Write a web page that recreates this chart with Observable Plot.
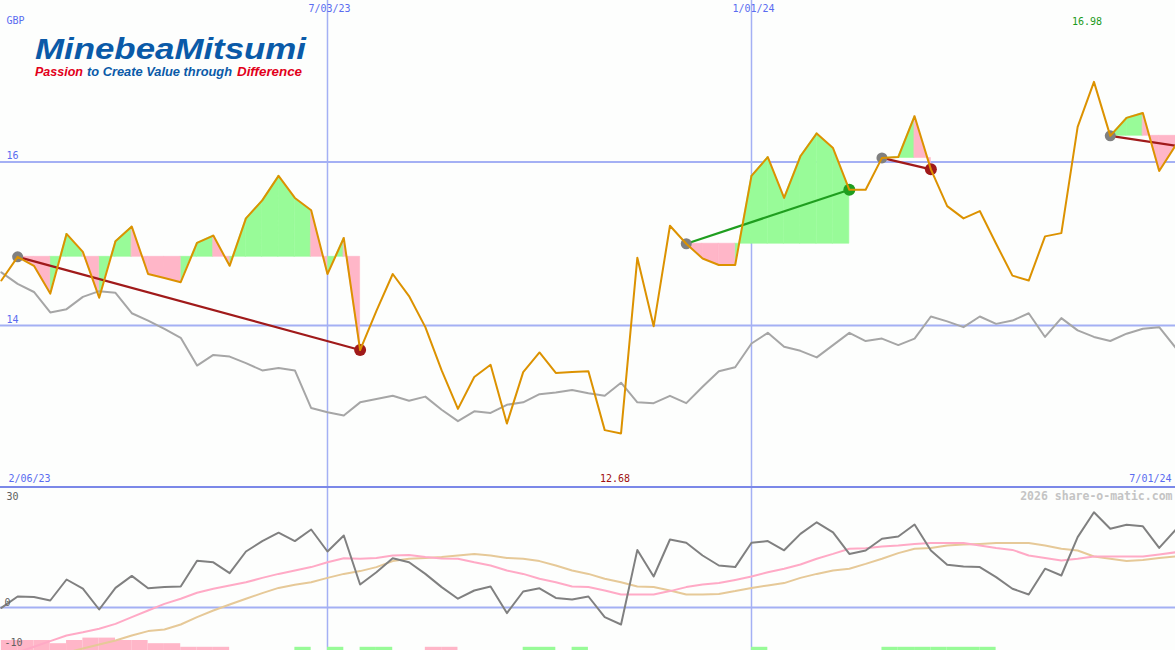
<!DOCTYPE html>
<html><head><meta charset="utf-8">
<script src="https://cdn.jsdelivr.net/npm/d3@7"></script>
<script src="https://cdn.jsdelivr.net/npm/@observablehq/plot@0.6"></script>
<style>
html,body{margin:0;padding:0;background:#fdfefd;}
#wrap{position:relative;width:1175px;height:650px;overflow:hidden;background:#fdfefd;}
#lower{border-top:2px solid #7b88e8;}
#wrap svg{display:block;}
#logo{position:absolute;left:0;top:0;}
</style></head><body>
<div id="wrap">
<div id="main"></div>
<div id="lower"></div>
<svg id="logo" width="330" height="85" xmlns="http://www.w3.org/2000/svg" font-family="'Liberation Sans', Arial, sans-serif" font-weight="bold" font-style="italic">
<text x="35" y="58.5" textLength="271" lengthAdjust="spacingAndGlyphs" font-size="30" fill="#0a5aa8">MinebeaMitsumi</text>
<text x="35" y="76" textLength="48" lengthAdjust="spacingAndGlyphs" font-size="12" fill="#e2001a">Passion</text>
<text x="87" y="76" textLength="145" lengthAdjust="spacingAndGlyphs" font-size="12" fill="#0a5aa8">to Create Value through</text>
<text x="237" y="76" textLength="65" lengthAdjust="spacingAndGlyphs" font-size="12" fill="#e2001a">Difference</text>
</svg>
</div>
<script>
// ---- data (weekly, Mondays from 13 Feb 2023 to 1 Jul 2024) ----
const firstWeek = "2023-02-13";
const lastWeek = "2024-07-01";
const price = [
14.55,14.84,14.73,14.39,15.12,14.90,14.34,15.03,15.21,14.63,
14.58,14.53,15.01,15.10,14.73,15.31,15.53,15.83,15.56,15.41,
14.63,15.07,13.70,14.18,14.63,14.36,13.98,13.45,12.98,13.37,
13.52,12.80,13.43,13.67,13.42,13.43,13.44,12.72,12.68,14.83,
13.99,15.22,15.00,14.82,14.74,14.74,15.83,16.06,15.56,16.07,
16.35,16.17,15.66,15.66,16.05,16.06,16.56,15.91,15.46,15.31,
15.40,15.00,14.61,14.55,15.09,15.13,16.43,16.98,16.32,16.54,
16.60,15.89,16.20];
const benchmark = [
14.65,14.51,14.41,14.16,14.20,14.35,14.42,14.40,14.15,14.06,
13.96,13.85,13.51,13.64,13.62,13.54,13.45,13.48,13.45,12.99,
12.94,12.90,13.06,13.10,13.14,13.08,13.13,12.97,12.83,12.95,
12.93,13.03,13.06,13.16,13.18,13.21,13.17,13.14,13.30,13.06,
13.05,13.14,13.05,13.25,13.44,13.49,13.78,13.91,13.74,13.69,
13.61,13.76,13.91,13.81,13.84,13.76,13.84,14.11,14.05,13.98,
14.11,14.02,14.06,14.15,13.86,14.09,13.94,13.86,13.81,13.90,
13.96,13.98,13.73];
const oscillator = [
-0.1,2.75,2.6,1.75,7.0,4.7,-0.5,4.9,7.9,4.8,
5.1,5.25,11.7,11.3,8.6,14.0,16.6,18.7,16.6,19.5,
14.0,18.0,5.75,8.8,12.3,11.3,8.4,5.1,2.2,4.25,
5.25,-1.4,4.0,4.8,2.4,2.0,2.75,-2.4,-4.25,14.4,
7.75,17.0,16.2,13.0,10.5,10.1,16.2,16.6,14.3,18.4,
21.3,18.8,13.4,14.25,17.2,17.75,20.75,14.25,10.7,10.25,
10.1,7.6,4.7,3.25,9.7,8.0,17.6,23.8,19.7,20.7,
20.3,14.9,19.4];
const oscFast = [
-12.5,-11.2,-9.8,-8.4,-7.0,-6.2,-5.3,-4.1,-2.4,-0.75,
0.9,2.2,3.7,4.7,5.5,6.3,7.4,8.4,9.25,10.1,
11.3,12.3,12.2,12.4,13.0,13.1,12.6,12.25,12.2,11.3,
10.5,9.25,8.4,7.2,6.3,5.25,5.1,4.25,3.25,3.25,
3.25,4.1,5.1,5.75,6.1,6.9,7.75,8.8,9.7,10.75,
12.2,13.4,14.7,14.8,15.25,15.5,15.9,16.1,16.1,16.1,
15.5,14.9,14.4,13.0,12.4,11.75,12.2,12.75,12.75,12.75,
12.75,13.25,13.8];
const oscSlow = [
-15.5,-14.5,-13.5,-12.5,-11.3,-10.25,-9.25,-8.25,-7.0,-5.9,
-5.5,-4.25,-2.4,-0.75,0.75,2.2,3.6,4.9,5.7,6.3,
7.4,8.4,9.1,10.1,11.6,12.2,12.4,12.6,13.0,13.4,
13.0,12.4,12.2,11.6,10.5,9.25,8.4,7.2,6.3,5.25,
5.1,4.25,3.25,3.25,3.4,4.1,4.9,5.5,6.1,7.4,
8.4,9.25,9.7,10.9,12.2,13.6,14.7,14.9,15.5,15.75,
15.9,16.1,16.1,16.1,15.5,14.7,14.25,12.75,12.2,11.6,
11.9,12.4,12.75];
const signalBars = [
-2.5,-2.5,-2.5,-1.7,-2.5,-3.1,-3.1,-2.5,-2.5,-1.7,
-1.7,-0.8,-0.8,-0.8,0,0,0,0,0.8,0,
0.8,0,0.8,0.8,0,0,-0.8,-0.8,0,0,
0,0,0.8,0.8,0,0.8,0,0,0,0,
0,0,0,0,0,0,0.8,0,0,0,
0,0,0,0,0.8,0.8,0.8,0.8,0.8,0.8,
0.8,0,0,0,0,0,0,0,0,0,
0,0,0];
const tradeEntry = ["2023-02-20","2023-12-04","2024-02-26","2024-06-03"];
const tradeExit  = ["2023-07-17","2024-02-12","2024-03-18","2024-07-01"];
const tradeClosed = [true,true,true,false];
const priceTicks = [16,14];
const oscTicks = [0,-10];
const oscTopLabel = "30";
const dateTicks = ["2023-07-03","2024-01-01"];
const dateTickLabels = ["7/03/23","1/01/24"];
const rangeStartLabel = "2/06/23";
const rangeEndLabel = "7/01/24";
const currency = "GBP";
const credit = "2026 share-o-matic.com";

// ---- build ----
const dates = d3.utcMonday.range(new Date(firstWeek), d3.utcDay.offset(new Date(lastWeek), 1));
const rows = dates.map((d,i)=>({date:d, price:price[i], bench:benchmark[i], osc:oscillator[i], fast:oscFast[i], slow:oscSlow[i]}));
const idx = s => dates.findIndex(d => +d === +new Date(s));

const xDomain = [new Date(Date.UTC(2023,1,12,15,22)), new Date(lastWeek)];
const mainY = [12.0306, 17.9755];
const lowY = [-10.75, 29.75];

const MONO = "DejaVu Sans Mono, monospace";
const GRID = "#a4b0f4";
const LABEL = "#5a6cf0";
const GREENFILL = "#98fb98", PINKFILL = "#ffb6c8";

const posRows = [], negRows = [], links = [], entryDots = [], exitDots = [];
tradeEntry.forEach((e,t)=>{
  const s = idx(e), f = idx(tradeExit[t]);
  const level = price[s];
  for (let k=s;k<f;k++){
    const target = price[k+1] >= level ? posRows : negRows;
    const seg = t + "-" + k;
    target.push({seg, date:dates[k], y1:level, y2:price[k]});
    target.push({seg, date:dates[k+1], y1:level, y2:price[k+1]});
  }
  const win = price[f] >= level;
  links.push({x1:dates[s], y1:level, x2:dates[f], y2:price[f], color: win ? "#1f9e1f" : "#a01a1a"});
  entryDots.push({date:dates[s], v:level});
  if (tradeClosed[t]) exitDots.push({date:dates[f], v:price[f], color: win ? "#1f9e1f" : "#a01a1a"});
});

const iMax = d3.maxIndex(price), iMin = d3.minIndex(price);
const tickDates = dateTicks.map(s=>new Date(s));
const T = {fontFamily:MONO, fontSize:10, lineAnchor:"middle"};

const main = Plot.plot({
  width:1175, height:486, margin:0,
  x:{type:"utc", domain:xDomain, axis:null},
  y:{domain:mainY, axis:null},
  style:{background:"transparent", fontFamily:MONO, fontSize:"10px", overflow:"hidden"},
  marks:[
    Plot.ruleY(priceTicks, {stroke:GRID, strokeWidth:2}),
    Plot.ruleX(tickDates, {stroke:GRID, strokeWidth:1.5}),
    Plot.areaY(posRows, {x:"date", y1:"y1", y2:"y2", z:"seg", fill:GREENFILL, stroke:GREENFILL, strokeWidth:0.6}),
    Plot.areaY(negRows, {x:"date", y1:"y1", y2:"y2", z:"seg", fill:PINKFILL, stroke:PINKFILL, strokeWidth:0.6}),
    Plot.line(rows, {x:"date", y:"bench", stroke:"#a6a6a6", strokeWidth:2}),
    Plot.link(links, {x1:"x1", y1:"y1", x2:"x2", y2:"y2", stroke:"color", strokeWidth:2.2}),
    Plot.dot(entryDots, {x:"date", y:"v", r:5.5, fill:"#808080"}),
    Plot.dot(exitDots, {x:"date", y:"v", r:6, fill:"color"}),
    Plot.line(rows, {x:"date", y:"price", stroke:"#dc9200", strokeWidth:2}),
    Plot.text([currency], {...T, frameAnchor:"top-left", dx:6, dy:20, text:d=>d, fill:LABEL, textAnchor:"start"}),
    Plot.text(priceTicks, {...T, x:()=>xDomain[0], y:d=>d, text:d=>String(d), dx:6, dy:-6, textAnchor:"start", fill:LABEL}),
    Plot.text(tickDates, {...T, x:d=>d, frameAnchor:"top", dy:8, dx:2, text:(d,i)=>dateTickLabels[i], fill:LABEL}),
    Plot.text([iMax], {...T, x:i=>dates[i], frameAnchor:"top", dy:21, dx:-7, text:i=>price[i].toFixed(2), fill:"#1c9a1c"}),
    Plot.text([iMin], {...T, x:i=>dates[i], frameAnchor:"bottom", dy:-8, dx:-6, text:i=>price[i].toFixed(2), fill:"#a01010"}),
    Plot.text([rangeStartLabel], {...T, frameAnchor:"bottom-left", dx:8, dy:-8, text:d=>d, textAnchor:"start", fill:LABEL}),
    Plot.text([rangeEndLabel], {...T, frameAnchor:"bottom-right", dx:-4, dy:-8, text:d=>d, textAnchor:"end", fill:LABEL})
  ]
});
document.getElementById("main").append(main);

const barRows = [];
signalBars.forEach((v,i)=>{
  if (v !== 0 && i+1 < dates.length) barRows.push({x1:dates[i], x2:dates[i+1], h:Math.abs(v), color: v>0 ? GREENFILL : PINKFILL});
});

const lower = Plot.plot({
  width:1175, height:162, margin:0,
  x:{type:"utc", domain:xDomain, axis:null},
  y:{domain:lowY, axis:null},
  style:{background:"transparent", fontFamily:MONO, fontSize:"10px", overflow:"hidden"},
  marks:[
    Plot.ruleY([0], {stroke:GRID, strokeWidth:2}),
    Plot.ruleX(tickDates, {stroke:GRID, strokeWidth:1.5}),
    Plot.rect(barRows, {x1:"x1", x2:"x2", y1:()=>lowY[0], y2:d=>lowY[0]+d.h, fill:"color"}),
    Plot.line(rows, {x:"date", y:"slow", stroke:"#e6c998", strokeWidth:2}),
    Plot.line(rows, {x:"date", y:"fast", stroke:"#ffaac6", strokeWidth:2}),
    Plot.line(rows, {x:"date", y:"osc", stroke:"#808080", strokeWidth:2}),
    Plot.text([oscTopLabel], {...T, frameAnchor:"top-left", dx:6, dy:8, text:d=>d, textAnchor:"start", fill:"#606060"}),
    Plot.text(oscTicks, {...T, x:()=>xDomain[0], y:d=>d, text:d=>String(d), dx:4, dy:-5, textAnchor:"start", fill:"#606060"}),
    Plot.text([credit], {...T, frameAnchor:"top-right", dx:-3, dy:8, text:d=>d, textAnchor:"end", fill:"#c4c4c4", fontWeight:"bold", fontSize:11.5})
  ]
});
document.getElementById("lower").append(lower);
</script>
</body></html>
